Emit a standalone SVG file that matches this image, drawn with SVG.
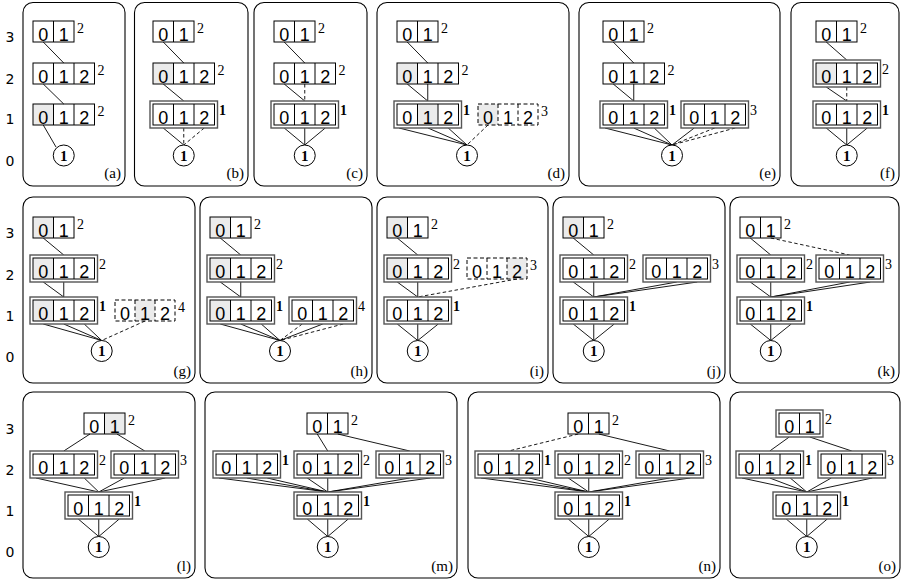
<svg xmlns="http://www.w3.org/2000/svg" width="901" height="579" viewBox="0 0 901 579">
<style>
.fr{fill:none;stroke:#000;stroke-width:1.1}
.bn{fill:none;stroke:#000;stroke-width:1}
.o{fill:#fff;stroke:#555;stroke-width:1.4}
.sh{fill:#ebebeb}
.dv{stroke:#000;stroke-width:1}
.ds{fill:none;stroke:#000;stroke-width:1;stroke-dasharray:4 2.5}
.n{font-family:"Liberation Sans",Arial,sans-serif;font-size:18px;text-anchor:middle}
.s{font-family:"Liberation Serif","Times New Roman",serif;font-size:14px}
.sb{font-family:"Liberation Serif","Times New Roman",serif;font-size:14px;font-weight:bold}
.ci{fill:#fff;stroke:#000;stroke-width:1}
.ct{font-family:"Liberation Serif","Times New Roman",serif;font-size:15px;font-weight:bold;text-anchor:middle}
.lb{font-family:"Liberation Serif","Times New Roman",serif;font-size:15px;text-anchor:end}
.ax{font-family:"DejaVu Sans",sans-serif;font-size:14px;text-anchor:middle}
#edges line{stroke:#000;stroke-width:0.9}
#edges line.d{stroke-dasharray:3.5 2.5}
</style>
<rect width="901" height="579" fill="#fff"/>
<g id="axis">
<text class="ax" x="10" y="42">3</text><text class="ax" x="10" y="84">2</text><text class="ax" x="10" y="124">1</text><text class="ax" x="10" y="166">0</text>
<text class="ax" x="10" y="238">3</text><text class="ax" x="10" y="280">2</text><text class="ax" x="10" y="321">1</text><text class="ax" x="10" y="362">0</text>
<text class="ax" x="10" y="434">3</text><text class="ax" x="10" y="475">2</text><text class="ax" x="10" y="516">1</text><text class="ax" x="10" y="557">0</text>
</g>
<g id="frames">
<rect class="fr" x="23" y="2.5" width="102" height="183.5" rx="10"/><text class="lb" x="121" y="178">(a)</text>
<rect class="fr" x="134.5" y="2.5" width="113.5" height="183.5" rx="10"/><text class="lb" x="244" y="178">(b)</text>
<rect class="fr" x="254" y="2.5" width="113" height="183.5" rx="10"/><text class="lb" x="363" y="178">(c)</text>
<rect class="fr" x="377" y="2.5" width="192" height="183.5" rx="10"/><text class="lb" x="565" y="178">(d)</text>
<rect class="fr" x="579" y="2.5" width="201" height="183.5" rx="10"/><text class="lb" x="776" y="178">(e)</text>
<rect class="fr" x="791" y="2.5" width="108" height="183.5" rx="10"/><text class="lb" x="895" y="178">(f)</text>
<rect class="fr" x="23" y="197" width="172" height="186" rx="10"/><text class="lb" x="191" y="375.5">(g)</text>
<rect class="fr" x="200" y="197" width="172" height="186" rx="10"/><text class="lb" x="368" y="375.5">(h)</text>
<rect class="fr" x="377" y="197" width="171" height="186" rx="10"/><text class="lb" x="544" y="375.5">(i)</text>
<rect class="fr" x="553" y="197" width="172" height="186" rx="10"/><text class="lb" x="721" y="375.5">(j)</text>
<rect class="fr" x="730" y="197" width="169" height="186" rx="10"/><text class="lb" x="895" y="375.5">(k)</text>
<rect class="fr" x="23" y="392" width="172" height="186" rx="10"/><text class="lb" x="191" y="570.5">(l)</text>
<rect class="fr" x="205" y="392" width="252" height="186" rx="10"/><text class="lb" x="453" y="570.5">(m)</text>
<rect class="fr" x="468" y="392" width="252" height="186" rx="10"/><text class="lb" x="716" y="570.5">(n)</text>
<rect class="fr" x="730" y="392" width="170" height="186" rx="10"/><text class="lb" x="896" y="570.5">(o)</text>
</g>
<g id="edges">
<line x1="43.25" y1="42" x2="63.75" y2="63"/><line x1="43.25" y1="84" x2="63.75" y2="104"/><line x1="43.25" y1="125" x2="56" y2="147"/>
<line x1="163.25" y1="42" x2="183.75" y2="63"/><line x1="163.25" y1="84" x2="183.75" y2="101"/><line x1="163.25" y1="128" x2="183.75" y2="145"/><line class="d" x1="183.75" y1="128" x2="183.75" y2="145"/><line class="d" x1="204.25" y1="128" x2="183.75" y2="145"/>
<line x1="284.25" y1="42" x2="304.75" y2="63"/><line x1="284.25" y1="84" x2="304.75" y2="101"/><line class="d" x1="304.75" y1="84" x2="304.75" y2="101"/><line x1="284.25" y1="128" x2="304.75" y2="145"/><line x1="304.75" y1="128" x2="304.75" y2="145"/><line x1="325.25" y1="128" x2="304.75" y2="145"/>
<line x1="407.25" y1="42" x2="427.75" y2="63"/><line x1="407.25" y1="84" x2="427.75" y2="101"/><line x1="427.75" y1="84" x2="427.75" y2="101"/><line x1="399" y1="128" x2="467" y2="145"/><line x1="428" y1="128" x2="467" y2="145"/><line x1="448.25" y1="128" x2="467" y2="145"/><line class="d" x1="488" y1="125" x2="467" y2="145"/>
<line x1="613.25" y1="42" x2="633.75" y2="63"/><line x1="613.25" y1="84" x2="633.75" y2="101"/><line x1="633.75" y1="84" x2="633.75" y2="101"/><line x1="605" y1="128" x2="672" y2="145"/><line x1="633.75" y1="128" x2="672" y2="145"/><line x1="654.25" y1="128" x2="672" y2="145"/><line x1="694.25" y1="128" x2="672" y2="145"/><line class="d" x1="714.75" y1="128" x2="672" y2="145"/><line class="d" x1="735.25" y1="128" x2="672" y2="145"/>
<line x1="826.25" y1="42" x2="846.75" y2="60"/><line x1="826.25" y1="87" x2="846.75" y2="101"/><line class="d" x1="846.75" y1="87" x2="846.75" y2="101"/><line x1="826.25" y1="128" x2="846.75" y2="145"/><line x1="846.75" y1="128" x2="846.75" y2="145"/><line x1="867.25" y1="128" x2="846.75" y2="145"/>
<line x1="43.25" y1="238" x2="63.75" y2="255"/><line x1="43.25" y1="282" x2="63.75" y2="297"/><line x1="63.75" y1="282" x2="63.75" y2="297"/><line x1="43.25" y1="324" x2="101.7" y2="340.5"/><line x1="63.75" y1="324" x2="101.7" y2="340.5"/><line x1="84.25" y1="324" x2="101.7" y2="340.5"/><line class="d" x1="145" y1="321" x2="101.7" y2="340.5"/>
<line x1="220.25" y1="238" x2="240.75" y2="255"/><line x1="220.25" y1="282" x2="240.75" y2="297"/><line x1="240.75" y1="282" x2="240.75" y2="297"/><line x1="220.25" y1="324" x2="280" y2="340.5"/><line x1="240.75" y1="324" x2="280" y2="340.5"/><line x1="261.25" y1="324" x2="280" y2="340.5"/><line class="d" x1="302.25" y1="324" x2="280" y2="340.5"/><line x1="322.75" y1="324" x2="280" y2="340.5"/><line class="d" x1="343.25" y1="324" x2="280" y2="340.5"/>
<line x1="397.25" y1="238" x2="417.75" y2="255"/><line x1="397.25" y1="282" x2="417.75" y2="297"/><line x1="417.75" y1="282" x2="417.75" y2="297"/><line class="d" x1="517" y1="279" x2="417.75" y2="297"/><line x1="397.25" y1="324" x2="417.75" y2="340.5"/><line x1="417.75" y1="324" x2="417.75" y2="340.5"/><line x1="438.25" y1="324" x2="417.75" y2="340.5"/>
<line x1="573.25" y1="238" x2="593.75" y2="255"/><line x1="573.25" y1="282" x2="593.75" y2="297"/><line x1="593.75" y1="282" x2="593.75" y2="297"/><line x1="676.75" y1="282" x2="593.75" y2="297"/><line x1="697.25" y1="282" x2="593.75" y2="297"/><line x1="573.25" y1="324" x2="593.75" y2="340.5"/><line x1="593.75" y1="324" x2="593.75" y2="340.5"/><line x1="614.25" y1="324" x2="593.75" y2="340.5"/>
<line x1="750.25" y1="238" x2="770.75" y2="255"/><line class="d" x1="770.75" y1="238" x2="849.75" y2="255"/><line x1="750.25" y1="282" x2="770.75" y2="297"/><line x1="770.75" y1="282" x2="770.75" y2="297"/><line x1="849.75" y1="282" x2="770.75" y2="297"/><line x1="870.25" y1="282" x2="770.75" y2="297"/><line x1="750.25" y1="324" x2="770.75" y2="340.5"/><line x1="770.75" y1="324" x2="770.75" y2="340.5"/><line x1="791.25" y1="324" x2="770.75" y2="340.5"/>
<line x1="90" y1="434" x2="63.75" y2="451"/><line x1="117" y1="434" x2="144.75" y2="451"/><line x1="36" y1="478" x2="98.75" y2="492"/><line x1="84.25" y1="478" x2="98.75" y2="492"/><line x1="124.25" y1="478" x2="98.75" y2="492"/><line x1="165.25" y1="478" x2="98.75" y2="492"/><line x1="78.25" y1="519" x2="98.75" y2="536.5"/><line x1="98.75" y1="519" x2="98.75" y2="536.5"/><line x1="119.25" y1="519" x2="98.75" y2="536.5"/>
<line x1="317.25" y1="434" x2="327.75" y2="451"/><line x1="337.75" y1="434" x2="409.75" y2="451"/><line x1="219" y1="478" x2="327.75" y2="492"/><line x1="246.75" y1="478" x2="327.75" y2="492"/><line x1="267.25" y1="478" x2="327.75" y2="492"/><line x1="307.25" y1="478" x2="327.75" y2="492"/><line x1="327.75" y1="478" x2="327.75" y2="492"/><line x1="409.75" y1="478" x2="327.75" y2="492"/><line x1="430.25" y1="478" x2="327.75" y2="492"/><line x1="307.25" y1="519" x2="327.75" y2="536.5"/><line x1="327.75" y1="519" x2="327.75" y2="536.5"/><line x1="348.25" y1="519" x2="327.75" y2="536.5"/>
<line class="d" x1="578.25" y1="434" x2="508.75" y2="451"/><line x1="598.75" y1="434" x2="669.75" y2="451"/><line x1="481" y1="478" x2="588.75" y2="492"/><line x1="508.75" y1="478" x2="588.75" y2="492"/><line x1="529.25" y1="478" x2="588.75" y2="492"/><line x1="568.25" y1="478" x2="588.75" y2="492"/><line x1="588.75" y1="478" x2="588.75" y2="492"/><line x1="669.75" y1="478" x2="588.75" y2="492"/><line x1="690.25" y1="478" x2="588.75" y2="492"/><line x1="568.25" y1="519" x2="588.75" y2="536.5"/><line x1="588.75" y1="519" x2="588.75" y2="536.5"/><line x1="609.25" y1="519" x2="588.75" y2="536.5"/>
<line x1="789.25" y1="437" x2="769.75" y2="451"/><line x1="809.75" y1="437" x2="851.75" y2="451"/><line x1="742" y1="478" x2="806.75" y2="492"/><line x1="769.75" y1="478" x2="806.75" y2="492"/><line x1="790.25" y1="478" x2="806.75" y2="492"/><line x1="831.25" y1="478" x2="806.75" y2="492"/><line x1="872.25" y1="478" x2="806.75" y2="492"/><line x1="786.25" y1="519" x2="806.75" y2="536.5"/><line x1="806.75" y1="519" x2="806.75" y2="536.5"/><line x1="827.25" y1="519" x2="806.75" y2="536.5"/>
</g>
<g id="n-a3"><rect class="bn" x="33" y="21" width="41" height="21"/><line class="dv" x1="53.5" y1="21" x2="53.5" y2="42"/><text class="n" x="43.25" y="40.5">0</text><text class="n" x="63.75" y="40.5">1</text><text class="s" x="77" y="33">2</text></g>
<g id="n-a2"><rect class="bn" x="33" y="63" width="61.5" height="21"/><line class="dv" x1="53.5" y1="63" x2="53.5" y2="84"/><line class="dv" x1="74" y1="63" x2="74" y2="84"/><text class="n" x="43.25" y="82.5">0</text><text class="n" x="63.75" y="82.5">1</text><text class="n" x="84.25" y="82.5">2</text><text class="s" x="97.5" y="75">2</text></g>
<g id="n-a1"><rect class="sh" x="33" y="104" width="20.5" height="21"/><rect class="bn" x="33" y="104" width="61.5" height="21"/><line class="dv" x1="53.5" y1="104" x2="53.5" y2="125"/><line class="dv" x1="74" y1="104" x2="74" y2="125"/><text class="n" x="43.25" y="123.5">0</text><text class="n" x="63.75" y="123.5">1</text><text class="n" x="84.25" y="123.5">2</text><text class="s" x="97.5" y="116">2</text></g>
<g id="n-a0"><circle class="ci" cx="63.75" cy="155.5" r="10.5"/><text class="ct" x="63.75" y="160.5">1</text></g>
<g id="n-b3"><rect class="bn" x="153" y="21" width="41" height="21"/><line class="dv" x1="173.5" y1="21" x2="173.5" y2="42"/><text class="n" x="163.25" y="40.5">0</text><text class="n" x="183.75" y="40.5">1</text><text class="s" x="197" y="33">2</text></g>
<g id="n-b2"><rect class="sh" x="153" y="63" width="20.5" height="21"/><rect class="bn" x="153" y="63" width="61.5" height="21"/><line class="dv" x1="173.5" y1="63" x2="173.5" y2="84"/><line class="dv" x1="194" y1="63" x2="194" y2="84"/><text class="n" x="163.25" y="82.5">0</text><text class="n" x="183.75" y="82.5">1</text><text class="n" x="204.25" y="82.5">2</text><text class="s" x="217.5" y="75">2</text></g>
<g id="n-b1"><rect class="o" x="150" y="101" width="67.5" height="27"/><rect class="bn" x="153" y="104" width="61.5" height="21"/><line class="dv" x1="173.5" y1="104" x2="173.5" y2="125"/><line class="dv" x1="194" y1="104" x2="194" y2="125"/><text class="n" x="163.25" y="123.5">0</text><text class="n" x="183.75" y="123.5">1</text><text class="n" x="204.25" y="123.5">2</text><text class="sb" x="219" y="115">1</text></g>
<g id="n-b0"><circle class="ci" cx="183.75" cy="155.5" r="10.5"/><text class="ct" x="183.75" y="160.5">1</text></g>
<g id="n-c3"><rect class="bn" x="274" y="21" width="41" height="21"/><line class="dv" x1="294.5" y1="21" x2="294.5" y2="42"/><text class="n" x="284.25" y="40.5">0</text><text class="n" x="304.75" y="40.5">1</text><text class="s" x="318" y="33">2</text></g>
<g id="n-c2"><rect class="bn" x="274" y="63" width="61.5" height="21"/><line class="dv" x1="294.5" y1="63" x2="294.5" y2="84"/><line class="dv" x1="315" y1="63" x2="315" y2="84"/><text class="n" x="284.25" y="82.5">0</text><text class="n" x="304.75" y="82.5">1</text><text class="n" x="325.25" y="82.5">2</text><text class="s" x="338.5" y="75">2</text></g>
<g id="n-c1"><rect class="o" x="271" y="101" width="67.5" height="27"/><rect class="bn" x="274" y="104" width="61.5" height="21"/><line class="dv" x1="294.5" y1="104" x2="294.5" y2="125"/><line class="dv" x1="315" y1="104" x2="315" y2="125"/><text class="n" x="284.25" y="123.5">0</text><text class="n" x="304.75" y="123.5">1</text><text class="n" x="325.25" y="123.5">2</text><text class="sb" x="340" y="115">1</text></g>
<g id="n-c0"><circle class="ci" cx="304.75" cy="155.5" r="10.5"/><text class="ct" x="304.75" y="160.5">1</text></g>
<g id="n-d3"><rect class="bn" x="397" y="21" width="41" height="21"/><line class="dv" x1="417.5" y1="21" x2="417.5" y2="42"/><text class="n" x="407.25" y="40.5">0</text><text class="n" x="427.75" y="40.5">1</text><text class="s" x="441" y="33">2</text></g>
<g id="n-d2"><rect class="sh" x="397" y="63" width="20.5" height="21"/><rect class="bn" x="397" y="63" width="61.5" height="21"/><line class="dv" x1="417.5" y1="63" x2="417.5" y2="84"/><line class="dv" x1="438" y1="63" x2="438" y2="84"/><text class="n" x="407.25" y="82.5">0</text><text class="n" x="427.75" y="82.5">1</text><text class="n" x="448.25" y="82.5">2</text><text class="s" x="461.5" y="75">2</text></g>
<g id="n-d1"><rect class="o" x="394" y="101" width="67.5" height="27"/><rect class="sh" x="417.5" y="104" width="20.5" height="21"/><rect class="bn" x="397" y="104" width="61.5" height="21"/><line class="dv" x1="417.5" y1="104" x2="417.5" y2="125"/><line class="dv" x1="438" y1="104" x2="438" y2="125"/><text class="n" x="407.25" y="123.5">0</text><text class="n" x="427.75" y="123.5">1</text><text class="n" x="448.25" y="123.5">2</text><text class="sb" x="463" y="115">1</text></g>
<g id="n-d1b"><rect class="sh" x="478" y="104" width="20" height="21"/><rect class="ds" x="478" y="104" width="60" height="21"/><line class="ds" x1="498" y1="104" x2="498" y2="125"/><line class="ds" x1="518" y1="104" x2="518" y2="125"/><text class="n" x="488" y="123.5">0</text><text class="n" x="508" y="123.5">1</text><text class="n" x="528" y="123.5">2</text><text class="s" x="541" y="116">3</text></g>
<g id="n-d0"><circle class="ci" cx="467" cy="155.5" r="10.5"/><text class="ct" x="467" y="160.5">1</text></g>
<g id="n-e3"><rect class="bn" x="603" y="21" width="41" height="21"/><line class="dv" x1="623.5" y1="21" x2="623.5" y2="42"/><text class="n" x="613.25" y="40.5">0</text><text class="n" x="633.75" y="40.5">1</text><text class="s" x="647" y="33">2</text></g>
<g id="n-e2"><rect class="bn" x="603" y="63" width="61.5" height="21"/><line class="dv" x1="623.5" y1="63" x2="623.5" y2="84"/><line class="dv" x1="644" y1="63" x2="644" y2="84"/><text class="n" x="613.25" y="82.5">0</text><text class="n" x="633.75" y="82.5">1</text><text class="n" x="654.25" y="82.5">2</text><text class="s" x="667.5" y="75">2</text></g>
<g id="n-e1"><rect class="o" x="600" y="101" width="67.5" height="27"/><rect class="bn" x="603" y="104" width="61.5" height="21"/><line class="dv" x1="623.5" y1="104" x2="623.5" y2="125"/><line class="dv" x1="644" y1="104" x2="644" y2="125"/><text class="n" x="613.25" y="123.5">0</text><text class="n" x="633.75" y="123.5">1</text><text class="n" x="654.25" y="123.5">2</text><text class="sb" x="669" y="115">1</text></g>
<g id="n-e1b"><rect class="o" x="681" y="101" width="67.5" height="27"/><rect class="bn" x="684" y="104" width="61.5" height="21"/><line class="dv" x1="704.5" y1="104" x2="704.5" y2="125"/><line class="dv" x1="725" y1="104" x2="725" y2="125"/><text class="n" x="694.25" y="123.5">0</text><text class="n" x="714.75" y="123.5">1</text><text class="n" x="735.25" y="123.5">2</text><text class="s" x="750" y="115">3</text></g>
<g id="n-e0"><circle class="ci" cx="672" cy="155.5" r="10.5"/><text class="ct" x="672" y="160.5">1</text></g>
<g id="n-f3"><rect class="bn" x="816" y="21" width="41" height="21"/><line class="dv" x1="836.5" y1="21" x2="836.5" y2="42"/><text class="n" x="826.25" y="40.5">0</text><text class="n" x="846.75" y="40.5">1</text><text class="s" x="860" y="33">2</text></g>
<g id="n-f2"><rect class="o" x="813" y="60" width="67.5" height="27"/><rect class="sh" x="816" y="63" width="20.5" height="21"/><rect class="bn" x="816" y="63" width="61.5" height="21"/><line class="dv" x1="836.5" y1="63" x2="836.5" y2="84"/><line class="dv" x1="857" y1="63" x2="857" y2="84"/><text class="n" x="826.25" y="82.5">0</text><text class="n" x="846.75" y="82.5">1</text><text class="n" x="867.25" y="82.5">2</text><text class="s" x="882" y="74">2</text></g>
<g id="n-f1"><rect class="o" x="813" y="101" width="67.5" height="27"/><rect class="bn" x="816" y="104" width="61.5" height="21"/><line class="dv" x1="836.5" y1="104" x2="836.5" y2="125"/><line class="dv" x1="857" y1="104" x2="857" y2="125"/><text class="n" x="826.25" y="123.5">0</text><text class="n" x="846.75" y="123.5">1</text><text class="n" x="867.25" y="123.5">2</text><text class="sb" x="882" y="115">1</text></g>
<g id="n-f0"><circle class="ci" cx="846.75" cy="155.5" r="10.5"/><text class="ct" x="846.75" y="160.5">1</text></g>
<g id="n-g3"><rect class="sh" x="33" y="217" width="20.5" height="21"/><rect class="bn" x="33" y="217" width="41" height="21"/><line class="dv" x1="53.5" y1="217" x2="53.5" y2="238"/><text class="n" x="43.25" y="236.5">0</text><text class="n" x="63.75" y="236.5">1</text><text class="s" x="77" y="229">2</text></g>
<g id="n-g2"><rect class="o" x="30" y="255" width="67.5" height="27"/><rect class="sh" x="33" y="258" width="20.5" height="21"/><rect class="bn" x="33" y="258" width="61.5" height="21"/><line class="dv" x1="53.5" y1="258" x2="53.5" y2="279"/><line class="dv" x1="74" y1="258" x2="74" y2="279"/><text class="n" x="43.25" y="277.5">0</text><text class="n" x="63.75" y="277.5">1</text><text class="n" x="84.25" y="277.5">2</text><text class="s" x="99" y="269">2</text></g>
<g id="n-g1"><rect class="o" x="30" y="297" width="67.5" height="27"/><rect class="sh" x="33" y="300" width="20.5" height="21"/><rect class="bn" x="33" y="300" width="61.5" height="21"/><line class="dv" x1="53.5" y1="300" x2="53.5" y2="321"/><line class="dv" x1="74" y1="300" x2="74" y2="321"/><text class="n" x="43.25" y="319.5">0</text><text class="n" x="63.75" y="319.5">1</text><text class="n" x="84.25" y="319.5">2</text><text class="sb" x="99" y="311">1</text></g>
<g id="n-g1b"><rect class="sh" x="135" y="300" width="20" height="21"/><rect class="ds" x="115" y="300" width="60" height="21"/><line class="ds" x1="135" y1="300" x2="135" y2="321"/><line class="ds" x1="155" y1="300" x2="155" y2="321"/><text class="n" x="125" y="319.5">0</text><text class="n" x="145" y="319.5">1</text><text class="n" x="165" y="319.5">2</text><text class="s" x="178" y="312">4</text></g>
<g id="n-g0"><circle class="ci" cx="101.7" cy="351" r="10.5"/><text class="ct" x="101.7" y="356">1</text></g>
<g id="n-h3"><rect class="sh" x="210" y="217" width="20.5" height="21"/><rect class="bn" x="210" y="217" width="41" height="21"/><line class="dv" x1="230.5" y1="217" x2="230.5" y2="238"/><text class="n" x="220.25" y="236.5">0</text><text class="n" x="240.75" y="236.5">1</text><text class="s" x="254" y="229">2</text></g>
<g id="n-h2"><rect class="o" x="207" y="255" width="67.5" height="27"/><rect class="sh" x="210" y="258" width="20.5" height="21"/><rect class="bn" x="210" y="258" width="61.5" height="21"/><line class="dv" x1="230.5" y1="258" x2="230.5" y2="279"/><line class="dv" x1="251" y1="258" x2="251" y2="279"/><text class="n" x="220.25" y="277.5">0</text><text class="n" x="240.75" y="277.5">1</text><text class="n" x="261.25" y="277.5">2</text><text class="s" x="276" y="269">2</text></g>
<g id="n-h1"><rect class="o" x="207" y="297" width="67.5" height="27"/><rect class="sh" x="210" y="300" width="20.5" height="21"/><rect class="bn" x="210" y="300" width="61.5" height="21"/><line class="dv" x1="230.5" y1="300" x2="230.5" y2="321"/><line class="dv" x1="251" y1="300" x2="251" y2="321"/><text class="n" x="220.25" y="319.5">0</text><text class="n" x="240.75" y="319.5">1</text><text class="n" x="261.25" y="319.5">2</text><text class="sb" x="276" y="311">1</text></g>
<g id="n-h1b"><rect class="o" x="289" y="297" width="67.5" height="27"/><rect class="bn" x="292" y="300" width="61.5" height="21"/><line class="dv" x1="312.5" y1="300" x2="312.5" y2="321"/><line class="dv" x1="333" y1="300" x2="333" y2="321"/><text class="n" x="302.25" y="319.5">0</text><text class="n" x="322.75" y="319.5">1</text><text class="n" x="343.25" y="319.5">2</text><text class="s" x="358" y="311">4</text></g>
<g id="n-h0"><circle class="ci" cx="280" cy="351" r="10.5"/><text class="ct" x="280" y="356">1</text></g>
<g id="n-i3"><rect class="sh" x="387" y="217" width="20.5" height="21"/><rect class="bn" x="387" y="217" width="41" height="21"/><line class="dv" x1="407.5" y1="217" x2="407.5" y2="238"/><text class="n" x="397.25" y="236.5">0</text><text class="n" x="417.75" y="236.5">1</text><text class="s" x="431" y="229">2</text></g>
<g id="n-i2"><rect class="o" x="384" y="255" width="67.5" height="27"/><rect class="sh" x="387" y="258" width="20.5" height="21"/><rect class="bn" x="387" y="258" width="61.5" height="21"/><line class="dv" x1="407.5" y1="258" x2="407.5" y2="279"/><line class="dv" x1="428" y1="258" x2="428" y2="279"/><text class="n" x="397.25" y="277.5">0</text><text class="n" x="417.75" y="277.5">1</text><text class="n" x="438.25" y="277.5">2</text><text class="s" x="453" y="269">2</text></g>
<g id="n-i2b"><rect class="sh" x="507" y="258" width="20" height="21"/><rect class="ds" x="467" y="258" width="60" height="21"/><line class="ds" x1="487" y1="258" x2="487" y2="279"/><line class="ds" x1="507" y1="258" x2="507" y2="279"/><text class="n" x="477" y="277.5">0</text><text class="n" x="497" y="277.5">1</text><text class="n" x="517" y="277.5">2</text><text class="s" x="530" y="270">3</text></g>
<g id="n-i1"><rect class="o" x="384" y="297" width="67.5" height="27"/><rect class="bn" x="387" y="300" width="61.5" height="21"/><line class="dv" x1="407.5" y1="300" x2="407.5" y2="321"/><line class="dv" x1="428" y1="300" x2="428" y2="321"/><text class="n" x="397.25" y="319.5">0</text><text class="n" x="417.75" y="319.5">1</text><text class="n" x="438.25" y="319.5">2</text><text class="sb" x="453" y="311">1</text></g>
<g id="n-i0"><circle class="ci" cx="417.75" cy="351" r="10.5"/><text class="ct" x="417.75" y="356">1</text></g>
<g id="n-j3"><rect class="sh" x="563" y="217" width="20.5" height="21"/><rect class="bn" x="563" y="217" width="41" height="21"/><line class="dv" x1="583.5" y1="217" x2="583.5" y2="238"/><text class="n" x="573.25" y="236.5">0</text><text class="n" x="593.75" y="236.5">1</text><text class="s" x="607" y="229">2</text></g>
<g id="n-j2"><rect class="o" x="560" y="255" width="67.5" height="27"/><rect class="bn" x="563" y="258" width="61.5" height="21"/><line class="dv" x1="583.5" y1="258" x2="583.5" y2="279"/><line class="dv" x1="604" y1="258" x2="604" y2="279"/><text class="n" x="573.25" y="277.5">0</text><text class="n" x="593.75" y="277.5">1</text><text class="n" x="614.25" y="277.5">2</text><text class="s" x="629" y="269">2</text></g>
<g id="n-j2b"><rect class="o" x="643" y="255" width="67.5" height="27"/><rect class="bn" x="646" y="258" width="61.5" height="21"/><line class="dv" x1="666.5" y1="258" x2="666.5" y2="279"/><line class="dv" x1="687" y1="258" x2="687" y2="279"/><text class="n" x="656.25" y="277.5">0</text><text class="n" x="676.75" y="277.5">1</text><text class="n" x="697.25" y="277.5">2</text><text class="s" x="712" y="269">3</text></g>
<g id="n-j1"><rect class="o" x="560" y="297" width="67.5" height="27"/><rect class="bn" x="563" y="300" width="61.5" height="21"/><line class="dv" x1="583.5" y1="300" x2="583.5" y2="321"/><line class="dv" x1="604" y1="300" x2="604" y2="321"/><text class="n" x="573.25" y="319.5">0</text><text class="n" x="593.75" y="319.5">1</text><text class="n" x="614.25" y="319.5">2</text><text class="sb" x="629" y="311">1</text></g>
<g id="n-j0"><circle class="ci" cx="593.75" cy="351" r="10.5"/><text class="ct" x="593.75" y="356">1</text></g>
<g id="n-k3"><rect class="bn" x="740" y="217" width="41" height="21"/><line class="dv" x1="760.5" y1="217" x2="760.5" y2="238"/><text class="n" x="750.25" y="236.5">0</text><text class="n" x="770.75" y="236.5">1</text><text class="s" x="784" y="229">2</text></g>
<g id="n-k2"><rect class="o" x="737" y="255" width="67.5" height="27"/><rect class="bn" x="740" y="258" width="61.5" height="21"/><line class="dv" x1="760.5" y1="258" x2="760.5" y2="279"/><line class="dv" x1="781" y1="258" x2="781" y2="279"/><text class="n" x="750.25" y="277.5">0</text><text class="n" x="770.75" y="277.5">1</text><text class="n" x="791.25" y="277.5">2</text><text class="s" x="806" y="269">2</text></g>
<g id="n-k2b"><rect class="o" x="816" y="255" width="67.5" height="27"/><rect class="bn" x="819" y="258" width="61.5" height="21"/><line class="dv" x1="839.5" y1="258" x2="839.5" y2="279"/><line class="dv" x1="860" y1="258" x2="860" y2="279"/><text class="n" x="829.25" y="277.5">0</text><text class="n" x="849.75" y="277.5">1</text><text class="n" x="870.25" y="277.5">2</text><text class="s" x="885" y="269">3</text></g>
<g id="n-k1"><rect class="o" x="737" y="297" width="67.5" height="27"/><rect class="bn" x="740" y="300" width="61.5" height="21"/><line class="dv" x1="760.5" y1="300" x2="760.5" y2="321"/><line class="dv" x1="781" y1="300" x2="781" y2="321"/><text class="n" x="750.25" y="319.5">0</text><text class="n" x="770.75" y="319.5">1</text><text class="n" x="791.25" y="319.5">2</text><text class="sb" x="806" y="311">1</text></g>
<g id="n-k0"><circle class="ci" cx="770.75" cy="351" r="10.5"/><text class="ct" x="770.75" y="356">1</text></g>
<g id="n-l3"><rect class="sh" x="104.5" y="413" width="20.5" height="21"/><rect class="bn" x="84" y="413" width="41" height="21"/><line class="dv" x1="104.5" y1="413" x2="104.5" y2="434"/><text class="n" x="94.25" y="432.5">0</text><text class="n" x="114.75" y="432.5">1</text><text class="s" x="128" y="425">2</text></g>
<g id="n-l2a"><rect class="o" x="30" y="451" width="67.5" height="27"/><rect class="bn" x="33" y="454" width="61.5" height="21"/><line class="dv" x1="53.5" y1="454" x2="53.5" y2="475"/><line class="dv" x1="74" y1="454" x2="74" y2="475"/><text class="n" x="43.25" y="473.5">0</text><text class="n" x="63.75" y="473.5">1</text><text class="n" x="84.25" y="473.5">2</text><text class="s" x="99" y="465">2</text></g>
<g id="n-l2b"><rect class="o" x="111" y="451" width="67.5" height="27"/><rect class="bn" x="114" y="454" width="61.5" height="21"/><line class="dv" x1="134.5" y1="454" x2="134.5" y2="475"/><line class="dv" x1="155" y1="454" x2="155" y2="475"/><text class="n" x="124.25" y="473.5">0</text><text class="n" x="144.75" y="473.5">1</text><text class="n" x="165.25" y="473.5">2</text><text class="s" x="180" y="465">3</text></g>
<g id="n-l1"><rect class="o" x="65" y="492" width="67.5" height="27"/><rect class="bn" x="68" y="495" width="61.5" height="21"/><line class="dv" x1="88.5" y1="495" x2="88.5" y2="516"/><line class="dv" x1="109" y1="495" x2="109" y2="516"/><text class="n" x="78.25" y="514.5">0</text><text class="n" x="98.75" y="514.5">1</text><text class="n" x="119.25" y="514.5">2</text><text class="sb" x="134" y="506">1</text></g>
<g id="n-l0"><circle class="ci" cx="98.75" cy="547" r="10.5"/><text class="ct" x="98.75" y="552">1</text></g>
<g id="n-m3"><rect class="bn" x="307" y="413" width="41" height="21"/><line class="dv" x1="327.5" y1="413" x2="327.5" y2="434"/><text class="n" x="317.25" y="432.5">0</text><text class="n" x="337.75" y="432.5">1</text><text class="s" x="351" y="425">2</text></g>
<g id="n-m2a"><rect class="o" x="213" y="451" width="67.5" height="27"/><rect class="bn" x="216" y="454" width="61.5" height="21"/><line class="dv" x1="236.5" y1="454" x2="236.5" y2="475"/><line class="dv" x1="257" y1="454" x2="257" y2="475"/><text class="n" x="226.25" y="473.5">0</text><text class="n" x="246.75" y="473.5">1</text><text class="n" x="267.25" y="473.5">2</text><text class="sb" x="282" y="465">1</text></g>
<g id="n-m2b"><rect class="o" x="294" y="451" width="67.5" height="27"/><rect class="bn" x="297" y="454" width="61.5" height="21"/><line class="dv" x1="317.5" y1="454" x2="317.5" y2="475"/><line class="dv" x1="338" y1="454" x2="338" y2="475"/><text class="n" x="307.25" y="473.5">0</text><text class="n" x="327.75" y="473.5">1</text><text class="n" x="348.25" y="473.5">2</text><text class="s" x="363" y="465">2</text></g>
<g id="n-m2c"><rect class="o" x="376" y="451" width="67.5" height="27"/><rect class="bn" x="379" y="454" width="61.5" height="21"/><line class="dv" x1="399.5" y1="454" x2="399.5" y2="475"/><line class="dv" x1="420" y1="454" x2="420" y2="475"/><text class="n" x="389.25" y="473.5">0</text><text class="n" x="409.75" y="473.5">1</text><text class="n" x="430.25" y="473.5">2</text><text class="s" x="445" y="465">3</text></g>
<g id="n-m1"><rect class="o" x="294" y="492" width="67.5" height="27"/><rect class="bn" x="297" y="495" width="61.5" height="21"/><line class="dv" x1="317.5" y1="495" x2="317.5" y2="516"/><line class="dv" x1="338" y1="495" x2="338" y2="516"/><text class="n" x="307.25" y="514.5">0</text><text class="n" x="327.75" y="514.5">1</text><text class="n" x="348.25" y="514.5">2</text><text class="sb" x="363" y="506">1</text></g>
<g id="n-m0"><circle class="ci" cx="327.75" cy="547" r="10.5"/><text class="ct" x="327.75" y="552">1</text></g>
<g id="n-n3"><rect class="bn" x="568" y="413" width="41" height="21"/><line class="dv" x1="588.5" y1="413" x2="588.5" y2="434"/><text class="n" x="578.25" y="432.5">0</text><text class="n" x="598.75" y="432.5">1</text><text class="s" x="612" y="425">2</text></g>
<g id="n-n2a"><rect class="o" x="475" y="451" width="67.5" height="27"/><rect class="bn" x="478" y="454" width="61.5" height="21"/><line class="dv" x1="498.5" y1="454" x2="498.5" y2="475"/><line class="dv" x1="519" y1="454" x2="519" y2="475"/><text class="n" x="488.25" y="473.5">0</text><text class="n" x="508.75" y="473.5">1</text><text class="n" x="529.25" y="473.5">2</text><text class="sb" x="544" y="465">1</text></g>
<g id="n-n2b"><rect class="o" x="555" y="451" width="67.5" height="27"/><rect class="bn" x="558" y="454" width="61.5" height="21"/><line class="dv" x1="578.5" y1="454" x2="578.5" y2="475"/><line class="dv" x1="599" y1="454" x2="599" y2="475"/><text class="n" x="568.25" y="473.5">0</text><text class="n" x="588.75" y="473.5">1</text><text class="n" x="609.25" y="473.5">2</text><text class="s" x="624" y="465">2</text></g>
<g id="n-n2c"><rect class="o" x="636" y="451" width="67.5" height="27"/><rect class="bn" x="639" y="454" width="61.5" height="21"/><line class="dv" x1="659.5" y1="454" x2="659.5" y2="475"/><line class="dv" x1="680" y1="454" x2="680" y2="475"/><text class="n" x="649.25" y="473.5">0</text><text class="n" x="669.75" y="473.5">1</text><text class="n" x="690.25" y="473.5">2</text><text class="s" x="705" y="465">3</text></g>
<g id="n-n1"><rect class="o" x="555" y="492" width="67.5" height="27"/><rect class="bn" x="558" y="495" width="61.5" height="21"/><line class="dv" x1="578.5" y1="495" x2="578.5" y2="516"/><line class="dv" x1="599" y1="495" x2="599" y2="516"/><text class="n" x="568.25" y="514.5">0</text><text class="n" x="588.75" y="514.5">1</text><text class="n" x="609.25" y="514.5">2</text><text class="sb" x="624" y="506">1</text></g>
<g id="n-n0"><circle class="ci" cx="588.75" cy="547" r="10.5"/><text class="ct" x="588.75" y="552">1</text></g>
<g id="n-o3"><rect class="o" x="776" y="410" width="47" height="27"/><rect class="bn" x="779" y="413" width="41" height="21"/><line class="dv" x1="799.5" y1="413" x2="799.5" y2="434"/><text class="n" x="789.25" y="432.5">0</text><text class="n" x="809.75" y="432.5">1</text><text class="s" x="825" y="424">2</text></g>
<g id="n-o2a"><rect class="o" x="736" y="451" width="67.5" height="27"/><rect class="bn" x="739" y="454" width="61.5" height="21"/><line class="dv" x1="759.5" y1="454" x2="759.5" y2="475"/><line class="dv" x1="780" y1="454" x2="780" y2="475"/><text class="n" x="749.25" y="473.5">0</text><text class="n" x="769.75" y="473.5">1</text><text class="n" x="790.25" y="473.5">2</text><text class="sb" x="805" y="465">1</text></g>
<g id="n-o2c"><rect class="o" x="818" y="451" width="67.5" height="27"/><rect class="bn" x="821" y="454" width="61.5" height="21"/><line class="dv" x1="841.5" y1="454" x2="841.5" y2="475"/><line class="dv" x1="862" y1="454" x2="862" y2="475"/><text class="n" x="831.25" y="473.5">0</text><text class="n" x="851.75" y="473.5">1</text><text class="n" x="872.25" y="473.5">2</text><text class="s" x="887" y="465">3</text></g>
<g id="n-o1"><rect class="o" x="773" y="492" width="67.5" height="27"/><rect class="bn" x="776" y="495" width="61.5" height="21"/><line class="dv" x1="796.5" y1="495" x2="796.5" y2="516"/><line class="dv" x1="817" y1="495" x2="817" y2="516"/><text class="n" x="786.25" y="514.5">0</text><text class="n" x="806.75" y="514.5">1</text><text class="n" x="827.25" y="514.5">2</text><text class="sb" x="842" y="506">1</text></g>
<g id="n-o0"><circle class="ci" cx="806.75" cy="547" r="10.5"/><text class="ct" x="806.75" y="552">1</text></g>
</svg>
